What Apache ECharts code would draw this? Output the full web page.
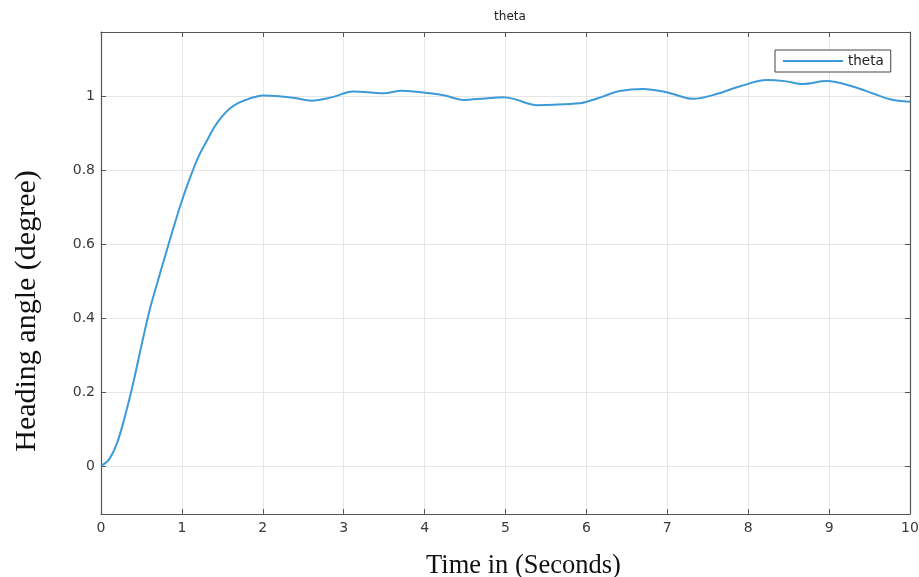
<!DOCTYPE html>
<html>
<head>
<meta charset="utf-8">
<script src="https://cdn.jsdelivr.net/npm/echarts@6/dist/echarts.min.js"></script>
<style>html,body{margin:0;padding:0;background:#fff}#c{width:919px;height:577px}</style>
</head>
<body>
<div id="c"></div>
<script>
var time = [0,0.1,0.2,0.3,0.4,0.5,0.6,0.7,0.8,0.9,1.0,1.1,1.2,1.3,1.4,1.5,1.6,1.7,1.8,1.9,2.0,2.2,2.4,2.6,2.85,3.12,3.3,3.49,3.72,4.07,4.25,4.48,4.75,4.97,5.1,5.39,5.6,5.92,6.0,6.2,6.41,6.7,6.99,7.32,7.61,7.9,8.23,8.45,8.68,8.97,9.3,9.55,9.75,10];
var theta = [0,0.018,0.063,0.138,0.226,0.326,0.421,0.499,0.574,0.648,0.718,0.780,0.835,0.877,0.917,0.947,0.969,0.983,0.992,0.999,1.003,1.001,0.996,0.989,0.998,1.014,1.012,1.009,1.016,1.009,1.003,0.991,0.995,0.998,0.994,0.977,0.978,0.982,0.986,1.000,1.015,1.021,1.012,0.994,1.007,1.028,1.045,1.042,1.034,1.042,1.027,1.008,0.993,0.986];
var yTicks = [0,0.2,0.4,0.6,0.8,1];
var xTicks = [0,1,2,3,4,5,6,7,8,9,10];
var titleText = 'theta';
var xName = 'Time in (Seconds)';
var yName = 'Heading angle (degree)';

var pts = time.map(function(t,i){return [t, theta[i]];});
var axisCol = '#555';
var sans = 'DejaVu Sans, Liberation Sans, Arial, sans-serif';
var serif = 'Liberation Serif, Times New Roman, serif';
var labelStyle = {color:'#3a3a3a', fontSize:14, fontFamily:sans};
var chart = echarts.init(document.getElementById('c'));
chart.setOption({
  animation:false,
  title:{text:titleText, left:505, top:6, textAlign:'center',
    textStyle:{fontSize:12, fontWeight:'normal', color:'#222', fontFamily:sans}},
  legend:{left:775, top:50, data:[{name:'theta', icon:'rect'}], itemWidth:60, itemHeight:2, itemGap:4,
    padding:[4,7,4,8], borderColor:'#444', borderWidth:1, backgroundColor:'#fff',
    textStyle:{fontSize:13.5, color:'#222', fontFamily:sans}},
  graphic:[{
    type:'text', x:27, y:311, rotation:Math.PI/2,
    style:{text:yName, font:'30px ' + serif, fill:'#111', textAlign:'center', textVerticalAlign:'middle'}
  }],
  grid:{left:101, right:9, top:32, bottom:63, containLabel:false, outerBoundsMode:'none'},
  xAxis:[{
    type:'value', min:0, max:10, interval:1, position:'bottom',
    name:xName, nameLocation:'middle', nameGap:39,
    nameTextStyle:{fontFamily:serif, fontSize:26.5, color:'#111', padding:[0,0,0,36]},
    axisLine:{onZero:false, lineStyle:{color:axisCol, width:1.2}},
    axisTick:{inside:true, length:5, lineStyle:{color:axisCol}},
    axisLabel:Object.assign({margin:7, customValues:xTicks}, labelStyle),
    splitLine:{show:true, lineStyle:{color:'#e6e6e6'}}
  },{
    type:'value', min:0, max:10, interval:1, position:'top',
    axisLine:{show:true, onZero:false, lineStyle:{color:axisCol, width:1.2}},
    axisTick:{inside:true, length:5, lineStyle:{color:axisCol}},
    axisLabel:{show:false}, splitLine:{show:false}
  }],
  yAxis:[{
    type:'value', min:-0.13, max:1.175, position:'left',
    axisLine:{show:true, onZero:false, lineStyle:{color:axisCol, width:1.2}},
    axisTick:{inside:true, length:5, customValues:yTicks, lineStyle:{color:axisCol}},
    axisLabel:Object.assign({margin:6, customValues:yTicks}, labelStyle),
    splitLine:{show:true, lineStyle:{color:'#e6e6e6'}}
  },{
    type:'value', min:-0.13, max:1.175, position:'right',
    axisLine:{show:true, onZero:false, lineStyle:{color:axisCol, width:1.2}},
    axisTick:{inside:true, length:5, customValues:yTicks, lineStyle:{color:axisCol}},
    axisLabel:{show:false}, splitLine:{show:false}
  }],
  series:[{
    name:'theta', type:'line', data:pts, smooth:0.35, symbol:'none',
    lineStyle:{color:'#3d9ad9', width:2}, itemStyle:{color:'#3d9ad9'}
  }]
});
</script>
</body>
</html>
